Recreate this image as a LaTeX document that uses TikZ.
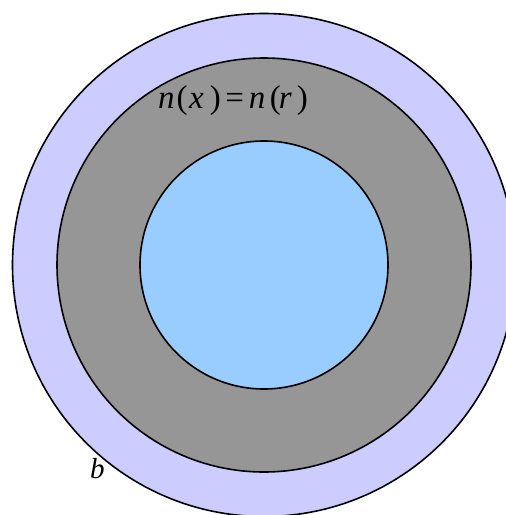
\documentclass[tikz,border=0pt]{standalone}
\usepackage{fontspec}
\setmainfont{Liberation Serif}
\definecolor{outerc}{HTML}{CCCCFF}
\definecolor{midc}{HTML}{969696}
\definecolor{innerc}{HTML}{99CCFF}
\tikzset{
  ring/.style={draw=black, line width=1.6pt},
  lbl/.style={inner sep=0pt, anchor=base west, font=\fontsize{33}{38}\selectfont}
}
\begin{document}
\begin{tikzpicture}[x=1pt,y=-1pt]
\useasboundingbox (0,0) rectangle (506,515);
\clip (0,0) rectangle (506,515);
\fill[white] (0,0) rectangle (506,515);
\draw[ring, fill=outerc] (264,265) circle (251.5);
\draw[ring, fill=midc] (264,265) circle (207);
\draw[ring, fill=innerc] (264,265) circle (124);
\node[lbl] (eq) at (158,108) {\textit{n}\kern2pt(\kern1.5pt\textit{x}\kern6pt)\kern4.5pt=\kern5pt\textit{n}\kern4.5pt(\kern-2pt\textit{r}\kern5pt)};
\node[lbl, font=\fontsize{29}{34}\selectfont] (b) at (90,478) {\textit{b}};
\end{tikzpicture}
\end{document}
